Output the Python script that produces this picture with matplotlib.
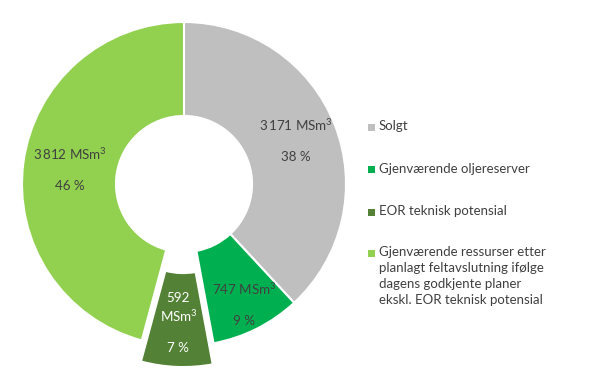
import matplotlib.pyplot as plt
from matplotlib.patches import Rectangle
import numpy as np

plt.rcParams["font.family"] = ["Lato", "DejaVu Sans"]
plt.rcParams["mathtext.fontset"] = "custom"
plt.rcParams["mathtext.rm"] = "Lato"
plt.rcParams["mathtext.default"] = "regular"

categories = [
    "Solgt",
    "Gjenværende oljereserver",
    "EOR teknisk potensial",
    "Gjenværende ressurser etter\nplanlagt feltavslutning ifølge\ndagens godkjente planer\nekskl. EOR teknisk potensial",
]
volumes = [3171, 747, 592, 3812]
value_labels = ["3\u2009171 MSm$^3$", "747 MSm$^3$", "592\nMSm$^3$", "3\u2009812 MSm$^3$"]
percents = ["38 %", "9 %", "7 %", "46 %"]
colors = ["#BFBFBF", "#00B050", "#538135", "#92D050"]
explode = [0, 0, 0.13, 0]

W, H = 600, 392
fig = plt.figure(figsize=(W / 100, H / 100), dpi=100)
ax = fig.add_axes([0, 0, 1, 1])

radius_px = 162
wedges, _ = ax.pie(volumes, colors=colors, startangle=90, counterclock=False,
                   explode=explode, radius=1,
                   wedgeprops=dict(width=0.58, edgecolor="white", linewidth=1.5))

# label distance from centre for each slice (in radii)
label_r = [0.74, 0.83, 0.86, 0.71]
text_colors = ["#404040", "#404040", "white", "#404040"]
for w, vl, pc, r, tc in zip(wedges, value_labels, percents, label_r, text_colors):
    mid = np.deg2rad((w.theta1 + w.theta2) / 2)
    x, y = r * np.cos(mid), r * np.sin(mid)
    ax.text(x, y, vl + "\n\n" + pc, ha="center", va="center", fontsize=9.6,
            color=tc, linespacing=1.3)

cx, cy = 184, H - 184
ax.set_xlim(-cx / radius_px, (W - cx) / radius_px)
ax.set_ylim(-cy / radius_px, (H - cy) / radius_px)
ax.set_aspect("auto")
ax.axis("off")

# legend, drawn by hand so the marker sits on the first line of each label
leg_top = [127.5, 170, 212, 253]
for c, lab, yp in zip(colors, categories, leg_top):
    fig.patches.append(Rectangle((368 / W, 1 - (yp + 3.5) / H), 7 / W, 7 / H,
                                 transform=fig.transFigure, facecolor=c,
                                 edgecolor="none"))
    fig.text(379 / W, 1 - (yp - 7) / H, lab, ha="left", va="top", fontsize=9.5,
             color="#404040", linespacing=1.4)

fig.savefig("out.png", dpi=100)
plt.close()
